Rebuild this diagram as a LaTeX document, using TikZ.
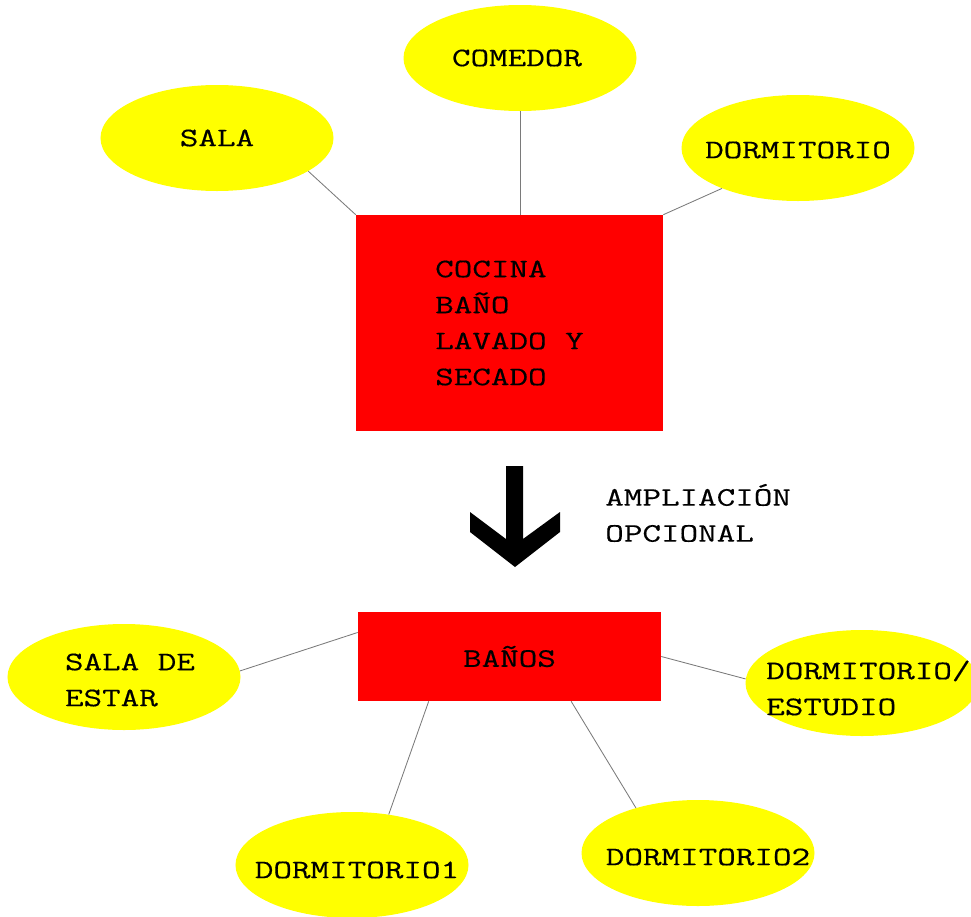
\documentclass[tikz,border=0pt]{standalone}
\usepackage{fontspec}
\setmonofont{Latin Modern Mono}[FakeStretch=1.35,FakeBold=0.4]
\usetikzlibrary{shapes.geometric,calc}
\definecolor{rmYellow}{HTML}{FFFF00}
\definecolor{rmRed}{HTML}{FF0000}
\definecolor{rmLine}{HTML}{7A7A7A}
\tikzset{
  rtext/.style ={font=\ttfamily\fontsize{19}{25.6}\selectfont,align=left,inner sep=0pt},
  room/.style  ={ellipse,fill=rmYellow,minimum width=58.25mm,minimum height=26.5mm,
                 inner sep=0pt},
  core/.style  ={rectangle,fill=rmRed,rtext},
  link/.style  ={draw=rmLine,line width=0.6pt},
}

\begin{document}
\begin{tikzpicture}[x=0.25mm,y=-0.25mm]
\useasboundingbox (0,0) rectangle (971,917);
\clip (0,0) rectangle (971,917);

% first stage
\node[core,minimum width=76.75mm,minimum height=54mm] (cocina) at (509.5,323)
  {COCINA\\BAÑO\\LAVADO Y\\SECADO};
\node[room,label={[rtext]center:SALA}] (sala) at (217,138) {};
\node[room,label={[rtext,xshift=-0.75mm]center:COMEDOR}] (comedor) at (520,58) {};
\node[room,label={[rtext,yshift=-0.5mm]center:DORMITORIO}] (dormitorio) at (798,148) {};

\draw[link] (sala.-20) -- (cocina.north west);
\draw[link] (comedor.south) -- (comedor.south |- cocina.north);
\draw[link] (dormitorio.208) -- (cocina.north east);

% extension arrow
\coordinate (arr) at (514.5,466);
\fill[black] (arr) ++(-8.5,0) -- ++(17,0) -- ++(0,73) -- ++(37,-27) -- ++(0,20)
  -- ++(-45,35) -- ++(-45,-35) -- ++(0,-20) -- ++(36,27) -- cycle;
\node[rtext,anchor=west] (ampl) at (605,513) {AMPLIACIÓN\\OPCIONAL};

% second stage
\node[core,minimum width=75.75mm,minimum height=22.25mm] (banos) at (509.5,656.5) {BAÑOS};
\node[room,label={[rtext,xshift=1.5mm,yshift=-0.75mm]center:{SALA DE\\ESTAR}}]
  (estar) at (124,677) {};
\node[room,label={[rtext,xshift=1.6mm,yshift=-1.25mm]center:{DORMITORIO/\\ESTUDIO}}]
  (estudio) at (862,683) {};
\node[room,label={[rtext,xshift=1.25mm,yshift=-1.25mm]center:DORMITORIO1}]
  (dorm1) at (352,865) {};
\node[room,label={[rtext,xshift=2.5mm,yshift=-1mm]center:DORMITORIO2}]
  (dorm2) at (698,853) {};

\draw[link] (estar.3) -- (banos.171);
\draw[link] (banos.east) -- (estudio.178);
\draw[link] (banos.209) -- (dorm1.54);
\draw[link] (banos.-36) -- (dorm2.144);
\end{tikzpicture}
\end{document}
